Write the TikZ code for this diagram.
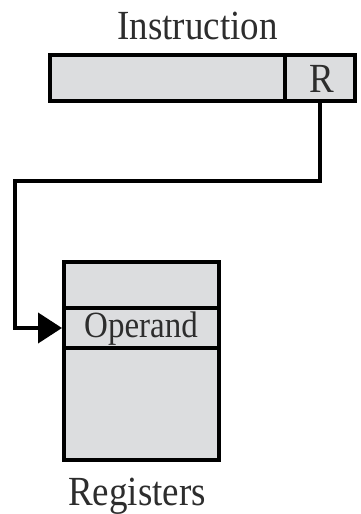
\documentclass[tikz,border=0pt]{standalone}
\usepackage{fontspec}
\setmainfont{Liberation Serif}
\usetikzlibrary{arrows.meta}
\definecolor{cellfill}{RGB}{220,221,223}
\definecolor{labeltext}{RGB}{45,45,45}
\tikzset{
  cell/.style={draw=black, fill=cellfill, line width=3.5pt, inner sep=0pt, outer sep=0pt},
  label/.style={text=labeltext, inner sep=0pt, anchor=base},
  bigfont/.style={font=\fontsize{37}{40}\selectfont},
  midfont/.style={font=\fontsize{33}{36}\selectfont},
  link/.style={line width=4pt, line join=miter}
}
\newcommand{\tallsc}[1]{\scalebox{1}[1.12]{#1}}
\begin{document}
\begin{tikzpicture}[x=1pt, y=-1pt]
  \useasboundingbox (0,0) rectangle (360,514);

  % instruction word: address field and register field
  \node[cell, minimum width=235pt, minimum height=46pt] (addr) at (167.5,78) {};
  \node[cell, minimum width=70pt, minimum height=46pt] (rfield) at (320,78) {};
  \draw[line width=4pt] (50,55) rectangle (355,101);
  \node[label, bigfont] (rlabel) at (322,92) {\tallsc{R}};
  \node[label, bigfont] (instrlabel) at (197.5,39) {\tallsc{Instruction}};

  % register file
  \node[cell, minimum width=155pt, minimum height=46pt] (regtop) at (141.5,285) {};
  \node[cell, minimum width=155pt, minimum height=40pt] (operand) at (141.5,328) {};
  \node[cell, minimum width=155pt, minimum height=112pt] (regbot) at (141.5,404) {};
  \draw[line width=4pt] (64,262) rectangle (219,460);
  \node[label, midfont] (oplabel) at (141,337) {\tallsc{Operand}};
  \node[label, bigfont] (reglabel) at (137,505) {\tallsc{Registers}};

  % register designator points to the operand
  \coordinate (bend) at (15,181);
  \draw[link, -{Triangle[length=24pt, width=30pt]}, shorten >=2pt]
    (rfield.south) -- (rfield.south |- bend) -- (bend)
    -- (bend |- operand.west) -- (operand.west);
\end{tikzpicture}
\end{document}
